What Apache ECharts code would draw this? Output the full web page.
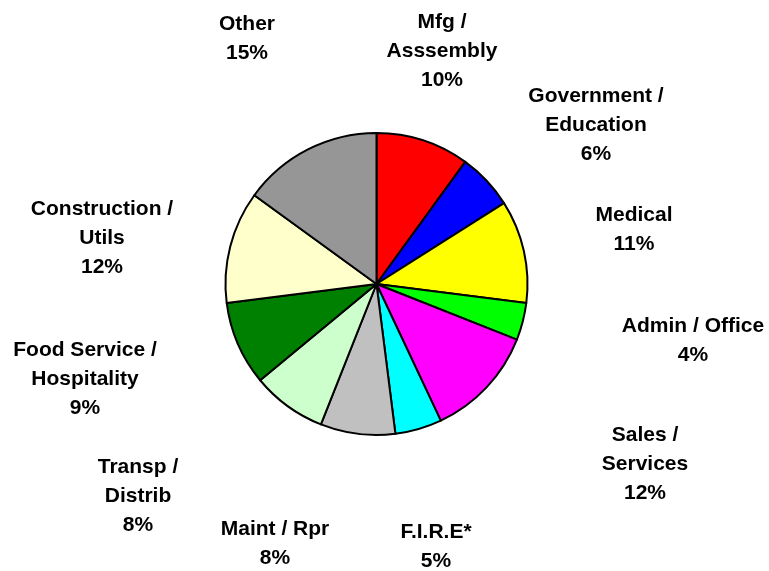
<!DOCTYPE html>
<html>
<head>
<meta charset="utf-8">
<script src="https://cdn.jsdelivr.net/npm/echarts@6/dist/echarts.min.js"></script>
<style>
  html, body { margin: 0; padding: 0; background: #fff; }
  #chart { width: 769px; height: 571px; }
</style>
</head>
<body>
<div id="chart"></div>
<script>
// Employment share by sector (percent), clockwise from 12 o'clock
const categories = [
  'Mfg /\nAsssembly',
  'Government /\nEducation',
  'Medical',
  'Admin / Office',
  'Sales /\nServices',
  'F.I.R.E*',
  'Maint / Rpr',
  'Transp /\nDistrib',
  'Food Service /\nHospitality',
  'Construction /\nUtils',
  'Other'
];
const shares = [10, 6, 11, 4, 12, 5, 8, 8, 9, 12, 15];

// Slice fills, in the same order as the categories
const sliceColors = [
  '#FF0000', '#0000FF', '#FFFF00', '#00FF00', '#FF00FF', '#00FFFF',
  '#C0C0C0', '#CCFFCC', '#008000', '#FFFFCC', '#969696'
];

// Where each label block is centred on the page
const labelAnchors = [
  [442, 51], [596, 125], [634, 230], [693, 341], [645, 464], [436, 547],
  [275, 544], [138, 496], [85, 379], [102, 238], [247, 39]
];

const chart = echarts.init(document.getElementById('chart'));
chart.setOption({
  animation: false,
  backgroundColor: '#ffffff',
  series: [{
    type: 'pie',
    center: [376.5, 284],
    radius: 151,
    startAngle: 90,
    clockwise: true,
    avoidLabelOverlap: false,
    data: categories.map((name, i) => ({
      name: name,
      value: shares[i],
      itemStyle: { color: sliceColors[i] }
    })),
    itemStyle: { borderColor: '#000000', borderWidth: 2 },
    label: {
      show: true,
      position: 'outside',
      formatter: p => p.name + '\n' + p.value + '%',
      color: '#000000',
      fontFamily: 'Liberation Sans, Arial, sans-serif',
      fontWeight: 'bold',
      fontSize: 21,
      lineHeight: 29,
      align: 'center'
    },
    labelLine: { show: false },
    labelLayout: p => ({
      x: labelAnchors[p.dataIndex][0],
      y: labelAnchors[p.dataIndex][1],
      align: 'center',
      verticalAlign: 'middle'
    }),
    emphasis: { disabled: true }
  }]
});
</script>
</body>
</html>
